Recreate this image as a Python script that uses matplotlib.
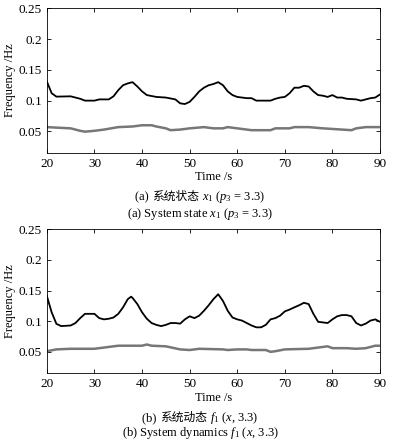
import matplotlib
matplotlib.use("Agg")
import matplotlib.pyplot as plt
from matplotlib.offsetbox import TextArea, HPacker, AnchoredOffsetbox

plt.rcParams['font.family'] = ['Liberation Serif', 'Noto Sans CJK SC']
plt.rcParams['font.size'] = 9
plt.rcParams['mathtext.fontset'] = 'custom'
plt.rcParams['mathtext.rm'] = 'Liberation Serif'
plt.rcParams['mathtext.it'] = 'Liberation Serif:italic'

# panel (a): system state
t_a_black = [20, 21, 22, 25, 27, 28, 30, 31, 33, 34, 35, 36, 37, 38, 39, 40, 41, 43, 45, 47,
             48, 49, 50, 51, 52, 53, 54, 55, 56, 57, 58, 59, 60, 61, 62, 63, 64, 65, 67, 68,
             69, 70, 71, 72, 73, 74, 75, 76, 77, 78, 79, 80, 81, 82, 83, 85, 86, 87, 88, 89, 90]
f_a_black = [0.131, 0.112, 0.1065, 0.107, 0.103, 0.100, 0.100, 0.102, 0.102, 0.107, 0.117,
             0.125, 0.128, 0.130, 0.123, 0.115, 0.109, 0.106, 0.105, 0.102, 0.0956, 0.0945,
             0.098, 0.106, 0.115, 0.121, 0.125, 0.127, 0.130, 0.125, 0.115, 0.109, 0.106,
             0.105, 0.104, 0.104, 0.100, 0.100, 0.100, 0.103, 0.105, 0.106, 0.112, 0.121,
             0.121, 0.124, 0.123, 0.115, 0.109, 0.108, 0.106, 0.109, 0.105, 0.105, 0.103,
             0.102, 0.100, 0.102, 0.104, 0.105, 0.110]
t_a_grey = [20, 25, 27, 28, 30, 32, 35, 38, 39, 40, 42, 43, 45, 46, 48, 50, 53, 55, 57, 58,
            60, 63, 67, 68, 71, 72, 75, 78, 82, 84, 85, 87, 90]
f_a_grey = [0.057, 0.055, 0.051, 0.0496, 0.051, 0.053, 0.057, 0.058, 0.059, 0.060, 0.060,
            0.058, 0.055, 0.052, 0.053, 0.055, 0.057, 0.055, 0.055, 0.057, 0.055, 0.052,
            0.052, 0.055, 0.055, 0.057, 0.057, 0.055, 0.053, 0.052, 0.055, 0.057, 0.057]

# panel (b): system dynamics
t_b_black = [20, 21, 22, 23, 25, 26, 27, 28, 30, 31, 32, 33, 34, 35, 36, 37, 37.7, 38, 39,
             40, 41, 42, 43, 44, 45, 46, 47, 48, 49, 50, 51, 52, 53, 54, 55, 56, 57, 58, 59,
             60, 61, 62, 63, 64, 65, 66, 67, 68, 69, 70, 71, 72, 73, 74, 75, 76, 77, 78, 79,
             80, 81, 82, 83, 84, 85, 86, 87, 88, 89, 90]
f_b_black = [0.141, 0.1145, 0.0957, 0.092, 0.093, 0.097, 0.105, 0.112, 0.112, 0.105, 0.103,
             0.104, 0.106, 0.112, 0.1226, 0.136, 0.140, 0.138, 0.128, 0.1145, 0.104, 0.097,
             0.094, 0.092, 0.094, 0.097, 0.097, 0.096, 0.103, 0.108, 0.105, 0.109, 0.117,
             0.126, 0.136, 0.144, 0.133, 0.117, 0.106, 0.103, 0.101, 0.097, 0.093, 0.090,
             0.090, 0.094, 0.103, 0.105, 0.109, 0.116, 0.119, 0.1226, 0.126, 0.130, 0.128,
             0.112, 0.099, 0.098, 0.097, 0.103, 0.108, 0.110, 0.110, 0.108, 0.097, 0.093,
             0.096, 0.101, 0.103, 0.099]
t_b_grey = [20, 22, 25, 30, 33, 35, 40, 41, 42, 45, 48, 50, 52, 57, 58, 60, 62, 63, 66, 67,
            68, 70, 75, 78, 79, 80, 83, 85, 87, 89, 90]
f_b_grey = [0.051, 0.054, 0.055, 0.055, 0.058, 0.060, 0.060, 0.062, 0.060, 0.059, 0.054,
            0.053, 0.055, 0.054, 0.053, 0.054, 0.054, 0.053, 0.053, 0.050, 0.051, 0.054,
            0.055, 0.058, 0.059, 0.056, 0.056, 0.055, 0.056, 0.060, 0.060]

x_ticks = [20, 30, 40, 50, 60, 70, 80, 90]
y_ticks = [0.05, 0.1, 0.15, 0.2, 0.25]
y_ticklabels = ['0.05', '0.1', '0.15', '0.2', '0.25']

# captions, as pieces so the Chinese words and the math can use different fonts
caption_a_cn = ["(a) ", "系统状态", " $x_1$ ($p_3$ = 3.3)"]
caption_a_en = ["(a) System state $x_1$ ($p_3$ = 3.3)"]
caption_b_cn = ["(b) ", "系统动态", " $f_1$ ($x$, 3.3)"]
caption_b_en = ["(b) System dynamics $f_1$ ($x$, 3.3)"]

fig = plt.figure(figsize=(3.94, 4.46), dpi=100)

ax_a = fig.add_axes([0.119, 0.657, 0.8455, 0.3245])
ax_b = fig.add_axes([0.119, 0.163, 0.8455, 0.323])

panels = [
    (ax_a, t_a_black, f_a_black, t_a_grey, f_a_grey),
    (ax_b, t_b_black, f_b_black, t_b_grey, f_b_grey),
]

for ax, tk, fk, tg, fg in panels:
    ax.plot(tg, fg, color='#777777', lw=1.8)
    ax.plot(tk, fk, color='black', lw=1.3)
    ax.set_xlim(20, 90)
    ax.set_ylim(0.015, 0.25)
    ax.set_xticks(x_ticks)
    ax.set_yticks(y_ticks)
    ax.set_yticklabels(y_ticklabels)
    ax.tick_params(direction='in', top=True, right=True, length=3, width=0.6, labelsize=9.5)
    for s in ax.spines.values():
        s.set_linewidth(0.6)
    ax.set_ylabel("Frequency /Hz", labelpad=2)
    ax.set_xlabel("Time /s", labelpad=1)


def caption(pieces, y):
    boxes = []
    for p in pieces:
        if p.isascii():
            props = dict(family='Liberation Serif', size=9)
        else:
            props = dict(family='Noto Sans CJK SC', size=8.5)
        boxes.append(TextArea(p, textprops=props))
    pack = HPacker(children=boxes, pad=0, sep=0, align='baseline')
    box = AnchoredOffsetbox(loc='center', child=pack, pad=0, borderpad=0, frameon=False,
                            bbox_to_anchor=(0.508, y), bbox_transform=fig.transFigure)
    fig.add_artist(box)


caption(caption_a_cn, 1 - 197 / 446)
caption(caption_a_en, 1 - 214 / 446)
caption(caption_b_cn, 1 - 418 / 446)
caption(caption_b_en, 1 - 433 / 446)

fig.savefig("out.png", dpi=100)
